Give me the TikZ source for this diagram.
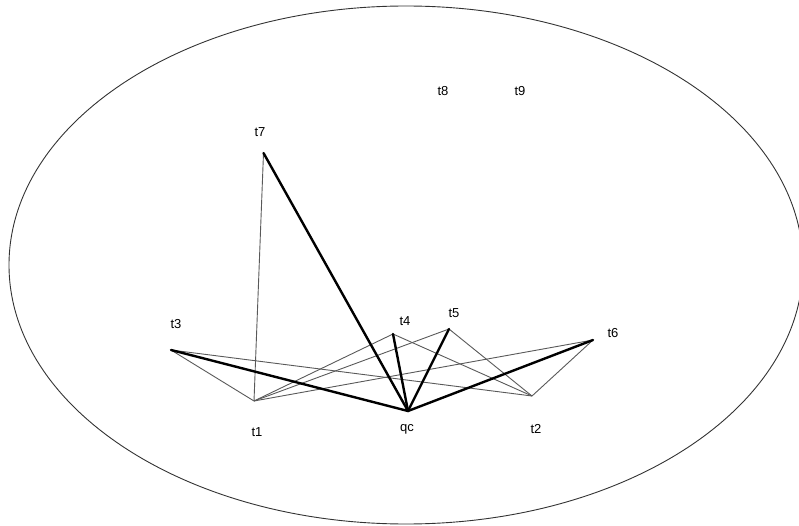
\documentclass[tikz,border=0pt]{standalone}
\usepackage{fontspec}
\setmainfont{Liberation Sans}
\begin{document}
\begin{tikzpicture}[x=1pt,y=-1pt,
  lbl/.style={inner sep=0pt,font=\fontsize{13}{15}\selectfont},
  thinedge/.style={draw=black!65,line width=0.9pt},
  thickedge/.style={draw=black,line width=2.4pt,line cap=round},
  outer/.style={draw=black!80,line width=0.9pt}]
\useasboundingbox (0,0) rectangle (799,526);
\begin{scope}
\clip (0,0) rectangle (799,526);
\draw[outer] (406,265) ellipse [x radius=397, y radius=259];
\end{scope}
% points
\coordinate (p3) at (171,350);
\coordinate (p1) at (254,401);
\coordinate (pqc) at (408,411);
\coordinate (p4) at (393,334);
\coordinate (p5) at (449,329);
\coordinate (p6) at (593,340);
\coordinate (p2) at (532,396);
\coordinate (p7) at (263.5,153);
% labels
\node[lbl] (t3) at (176,324) {t3};
\node[lbl] (t1) at (257,432) {t1};
\node[lbl] (qc) at (407,429) {qc};
\node[lbl] (t4) at (405,321) {t4};
\node[lbl] (t5) at (454,313) {t5};
\node[lbl] (t6) at (613,333) {t6};
\node[lbl] (t2) at (536,429) {t2};
\node[lbl] (t7) at (260,132) {t7};
\node[lbl] (t8) at (443,91) {t8};
\node[lbl] (t9) at (520,91) {t9};
% thin edges
\draw[thinedge] (p3) -- (p1);
\draw[thinedge] (p3) -- (p2);
\draw[thinedge] (p7) -- (p1);
\draw[thinedge] (p1) -- (p4);
\draw[thinedge] (p1) -- (p5);
\draw[thinedge] (p1) -- (p6);
\draw[thinedge] (p4) -- (p2);
\draw[thinedge] (p5) -- (p2);
\draw[thinedge] (p6) -- (p2);
% thick edges
\draw[thickedge] (p3) -- (pqc);
\draw[thickedge] (p7) -- (pqc);
\draw[thickedge] (p4) -- (pqc);
\draw[thickedge] (p5) -- (pqc);
\draw[thickedge] (p6) -- (pqc);
\end{tikzpicture}
\end{document}
